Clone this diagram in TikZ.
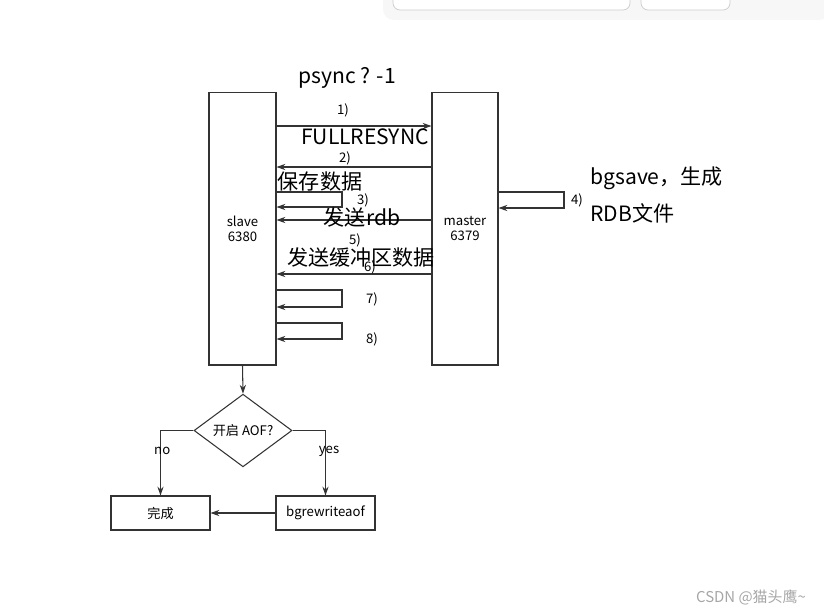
\documentclass[tikz,border=0pt]{standalone}
\usepackage{fontspec}
\setmainfont{Noto Sans CJK SC}
\usetikzlibrary{shapes.geometric,arrows.meta}
\definecolor{linegray}{HTML}{333333}
\tikzset{
  box/.style={draw=linegray, line width=0.6pt, inner sep=0pt},
  arr/.style={draw=linegray, line width=0.6pt, -{Stealth[length=5pt,width=3.5pt]}},
  big/.style={font=\fontsize{12}{14}\selectfont, inner sep=0pt},
  small/.style={font=\fontsize{7.5}{8.5}\selectfont, inner sep=0pt},
}

\begin{document}
\begin{tikzpicture}[x=0.02cm, y=-0.02cm]
\useasboundingbox (0,0) rectangle (824,613);

% screenshot bar
\fill[black!3, rounded corners=6] (383,-10) rectangle (830,20);
\draw[black!20, fill=white, rounded corners=4] (393,-8) rectangle (630,10);
\draw[black!20, fill=white, rounded corners=4] (641,-8) rectangle (730,10);

\node[box, minimum width=1.34cm, minimum height=5.46cm, small, align=center] (slave) at (242.5,228.5) {slave\\6380};
\node[box, minimum width=1.32cm, minimum height=5.46cm, small, align=center] (master) at (465,228.5) {master\\6379};

\coordinate (y1) at (0,126);
\coordinate (y2) at (0,167);
\coordinate (l3a) at (0,192);
\coordinate (l3b) at (342,207);
\coordinate (l4a) at (0,192);
\coordinate (l4b) at (564,208);
\coordinate (y5) at (0,220);
\coordinate (y6) at (0,274);
\coordinate (l7a) at (0,290);
\coordinate (l7b) at (342,307);
\coordinate (l8a) at (0,323);
\coordinate (l8b) at (342,339);

\draw[arr] (slave.east |- y1) -- (master.west |- y1);
\draw[arr] (master.west |- y2) -- (slave.east |- y2);
\draw[arr] (slave.east |- l3a) -| (l3b) -- (slave.east |- l3b);
\draw[arr] (master.east |- l4a) -| (l4b) -- (master.east |- l4b);
\draw[arr] (master.west |- y5) -- (slave.east |- y5);
\draw[arr] (master.west |- y6) -- (slave.east |- y6);
\draw[arr] (slave.east |- l7a) -| (l7b) -- (slave.east |- l7b);
\draw[arr] (slave.east |- l8a) -| (l8b) -- (slave.east |- l8b);

\node[small] (n1) at (343,110) {1)};
\node[small] (n2) at (345,158) {2)};
\node[small] (n3) at (363,200) {3)};
\node[small] (n4) at (577,200) {4)};
\node[small] (n5) at (355,240) {5)};
\node[small] (n6) at (370,267) {6)};
\node[small] (n7) at (372,299) {7)};
\node[small] (n8) at (372,339) {8)};

\node[big] (psync) at (347,78) {psync ? -1};
\node[big] (full) at (365,137) {FULLRESYNC};
\node[big] (save) at (320,182) {保存数据};
\node[big] (rdb) at (362,217) {发送rdb};
\node[big] (buf) at (361,257) {发送缓冲区数据};
\node[big, anchor=west] (bgsave) at (590,178) {bgsave，生成};
\node[big, anchor=west] (rdbfile) at (590,213) {RDB文件};

\node[box, diamond, minimum width=1.96cm, minimum height=1.3cm, small] (aof) at (243,430.5) {开启 AOF?};
\node[box, minimum width=1.98cm, minimum height=0.68cm, small] (done) at (160.5,513) {完成};
\node[box, minimum width=1.98cm, minimum height=0.68cm, small] (rewrite) at (325.5,513) {bgrewriteaof};

\draw[arr] (slave.south) -- (aof.north);
\draw[arr] (aof.west) -| node[pos=0.66, small, xshift=1pt] {no} (done.north);
\draw[arr] (aof.east) -| node[pos=0.66, small, xshift=2pt] {yes} (rewrite.north);
\draw[arr] (rewrite.west) -- (done.east);

\node[anchor=east, text=black!35, font=\fontsize{8.5}{10}\selectfont] (mark) at (812,597) {CSDN @猫头鹰\textasciitilde};
\end{tikzpicture}
\end{document}
